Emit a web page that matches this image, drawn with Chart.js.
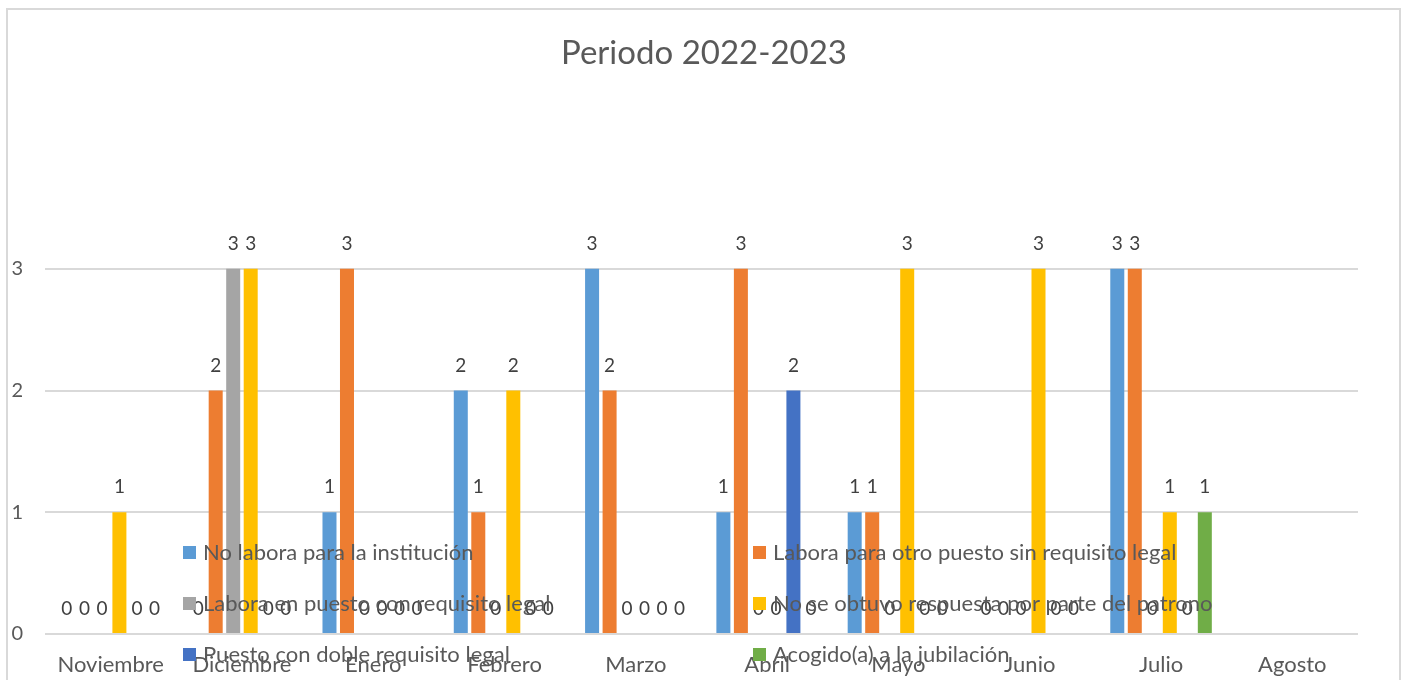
<!DOCTYPE html>
<html>
<head>
<meta charset="utf-8">
<script src="https://cdn.jsdelivr.net/npm/chart.js@4/dist/chart.umd.min.js"></script>
<style>
  body { margin: 0; background: #fff; }
  #wrap { width: 1406px; height: 680px; }
</style>
</head>
<body>
<div id="wrap"><canvas id="chart-area" width="1406" height="680"></canvas></div>
<script>
var titulo = 'Periodo 2022-2023';
var meses = ['Noviembre', 'Diciembre', 'Enero', 'Febrero', 'Marzo', 'Abril', 'Mayo', 'Junio', 'Julio', 'Agosto'];
var series = ['No labora para la institución', 'Labora para otro puesto sin requisito legal',
  'Labora en puesto con requisito legal', 'No se obtuvo respuesta por parte del patrono',
  'Puesto con doble requisito legal', 'Acogido(a) a la jubilación'];

var noLabora      = [0, 0, 1, 2, 3, 1, 1, 0, 3, null];
var otroPuesto    = [0, 2, 3, 1, 2, 3, 1, 0, 3, null];
var conRequisito  = [0, 3, 0, 0, 0, 0, 0, 0, 0, null];
var sinRespuesta  = [1, 3, 0, 2, 0, 0, 3, 3, 1, null];
var dobleRequisito = [0, 0, 0, 0, 0, 2, 0, 0, 0, null];
var jubilacion    = [0, 0, 0, 0, 0, 0, 0, 0, 1, null];
var yTicks = [0, 1, 2, 3];

var colores = ['#5B9BD5', '#ED7D31', '#A5A5A5', '#FFC000', '#4472C4', '#70AD47'];
var valores = [noLabora, otroPuesto, conRequisito, sinRespuesta, dobleRequisito, jubilacion];
var fuente = 'Lato, "Liberation Sans", sans-serif';

//outer frame and title (centered on the whole frame, not the plot)
var framePlugin = {
  id: 'frame',
  beforeDraw: function(chart) {
    var ctx = chart.ctx;
    ctx.save();
    ctx.fillStyle = '#fff';
    ctx.fillRect(0, 0, chart.width, chart.height);
    ctx.strokeStyle = '#d9d9d9';
    ctx.lineWidth = 2;
    ctx.strokeRect(7, 9, chart.width - 13, chart.height + 20);
    ctx.font = '33px ' + fuente;
    ctx.fillStyle = '#595959';
    ctx.textAlign = 'center';
    ctx.textBaseline = 'middle';
    ctx.fillText(titulo, chart.width / 2 + 1, 53);
    ctx.restore();
  }
};

//value labels above every bar
var labelPlugin = {
  id: 'valueLabels',
  afterDatasetsDraw: function(chart) {
    var ctx = chart.ctx;
    ctx.save();
    ctx.font = '19px ' + fuente;
    ctx.fillStyle = '#404040';
    ctx.textAlign = 'center';
    ctx.textBaseline = 'middle';
    chart.data.datasets.forEach(function(ds, i) {
      var meta = chart.getDatasetMeta(i);
      meta.data.forEach(function(bar, j) {
        if (ds.data[j] === null) return;
        ctx.fillText(String(ds.data[j]), bar.x, bar.y - 25);
      });
    });
    ctx.restore();
  }
};

//legend drawn inside the plot in two columns, like the original
var legendPlugin = {
  id: 'innerLegend',
  afterDraw: function(chart) {
    var ctx = chart.ctx;
    var area = chart.chartArea;
    var x0 = chart.width / 2 - 520;
    var colW = 570;
    ctx.save();
    ctx.font = '22px ' + fuente;
    ctx.textBaseline = 'middle';
    ctx.textAlign = 'left';
    chart.data.datasets.forEach(function(ds, i) {
      var x = x0 + (i % 2) * colW;
      var y = area.bottom - 81 + Math.floor(i / 2) * 51;
      ctx.fillStyle = ds.backgroundColor;
      ctx.fillRect(x, y - 7, 13, 13);
      ctx.fillStyle = '#595959';
      ctx.fillText(ds.label, x + 20, y);
    });
    ctx.restore();
  }
};

var datasets = [];
for (var i = 0; i < series.length; i++) {
  datasets.push({
    label: series[i],
    data: valores[i],
    backgroundColor: colores[i],
    categoryPercentage: 0.8,
    barPercentage: 0.8
  });
}

var config = {
  type: 'bar',
  data: { labels: meses, datasets: datasets },
  plugins: [framePlugin, labelPlugin, legendPlugin],
  options: {
    responsive: false,
    animation: false,
    layout: { padding: { left: 5, right: 48, top: 147, bottom: 0 } },
    plugins: {
      legend: { display: false },
      tooltip: { enabled: false },
      title: { display: false }
    },
    scales: {
      x: {
        grid: { display: false, drawTicks: false },
        border: { display: false },
        ticks: {
          color: '#595959',
          font: { family: fuente, size: 22 },
          padding: 18,
          autoSkip: false,
          maxRotation: 0
        },
        afterFit: function(s) { s.height = 46; }
      },
      y: {
        min: 0,
        max: 4,
        border: { display: false },
        grid: {
          drawTicks: false,
          lineWidth: 2,
          color: function(c) { return yTicks.indexOf(c.tick.value) >= 0 ? '#d9d9d9' : 'rgba(0,0,0,0)'; }
        },
        ticks: {
          stepSize: 1,
          color: '#595959',
          font: { family: fuente, size: 20 },
          padding: 22,
          callback: function(v) { return yTicks.indexOf(v) >= 0 ? v : ''; }
        },
        afterFit: function(s) { s.width = 40; }
      }
    }
  }
};

var ctx = document.getElementById('chart-area').getContext('2d');
window.myBar = new Chart(ctx, config);
</script>
</body>
</html>
